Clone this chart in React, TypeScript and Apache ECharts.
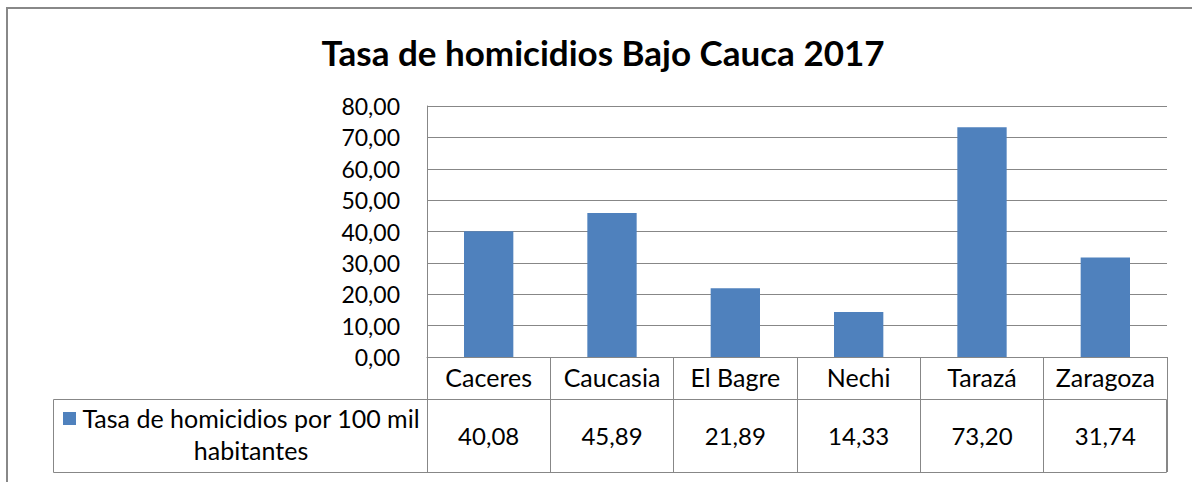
import React, { useEffect, useRef } from "react";
import * as echarts from "echarts";

const titleText = "Tasa de homicidios Bajo Cauca 2017";
const categories = ["Caceres", "Caucasia", "El Bagre", "Nechi", "Tarazá", "Zaragoza"];
const values = [40.08, 45.89, 21.89, 14.33, 73.2, 31.74];
const seriesNameLines = ["Tasa de homicidios por 100 mil", "habitantes"];
const yTicks = { min: 0, max: 80, interval: 10 };

const fmt = (v: number) => v.toFixed(2).replace(".", ",");

export default function App() {
  const ref = useRef<HTMLDivElement>(null);
  useEffect(() => {
    if (!ref.current) return;
    const chart = echarts.init(ref.current, null, { renderer: "svg" });
    const gray = "#878787";
    const font = "Lato";
    chart.setOption({
      animation: false,
      backgroundColor: "#ffffff",
      title: {
        text: titleText,
        left: 598,
        textAlign: "center",
        top: 29,
        textStyle: { fontFamily: font, fontWeight: "bold", fontSize: 35, color: "#000" },
      },
      grid: { left: 427, right: 25, top: 106, bottom: 125, containLabel: false },
      xAxis: [
        {
          type: "category",
          data: categories,
          axisLine: { show: true, lineStyle: { color: gray, width: 1 } },
          axisTick: { show: true, length: 115, interval: 0, lineStyle: { color: gray, width: 1 } },
          axisLabel: { interval: 0, margin: 7, fontFamily: font, fontSize: 25, color: "#000" },
        },
        {
          type: "category",
          data: values.map(fmt),
          position: "bottom",
          offset: 42,
          axisLine: { show: false },
          axisTick: { show: false },
          axisLabel: { interval: 0, margin: 24, fontFamily: font, fontSize: 24, color: "#000" },
        },
      ],
      yAxis: {
        type: "value",
        min: yTicks.min,
        max: yTicks.max,
        interval: yTicks.interval,
        axisLine: { show: true, lineStyle: { color: gray, width: 1 } },
        axisTick: { show: false },
        splitLine: { show: true, lineStyle: { color: gray, width: 1 } },
        axisLabel: {
          margin: 27,
          fontFamily: font,
          fontSize: 23,
          color: "#000",
          formatter: (v: number) => fmt(v),
        },
      },
      series: [
        {
          type: "bar",
          name: seriesNameLines.join(" "),
          data: values,
          barWidth: "40%",
          itemStyle: { color: "#4F81BD" },
        },
      ],
      graphic: [
        {
          type: "rect",
          shape: { x: 7, y: 8, width: 1220, height: 520 },
          style: { fill: "none", stroke: "#888888", lineWidth: 2 },
          silent: true,
        },
        {
          type: "rect",
          shape: { x: 53.5, y: 399.5, width: 1113, height: 73 },
          style: { fill: "none", stroke: gray, lineWidth: 1 },
          silent: true,
        },
        {
          type: "rect",
          shape: { x: 63, y: 412, width: 13, height: 13 },
          style: { fill: "#4F81BD" },
          silent: true,
        },
        {
          type: "text",
          x: 251,
          y: 402,
          style: {
            text: seriesNameLines.join("\n"),
            font: `25px ${font}`,
            fill: "#000",
            align: "center",
            verticalAlign: "top",
            lineHeight: 32,
          },
          silent: true,
        },
      ],
    });
    return () => chart.dispose();
  }, []);
  return (
    <div
      ref={ref}
      style={{ position: "fixed", left: 0, top: 0, width: 1192, height: 482, background: "#fff" }}
    />
  );
}
